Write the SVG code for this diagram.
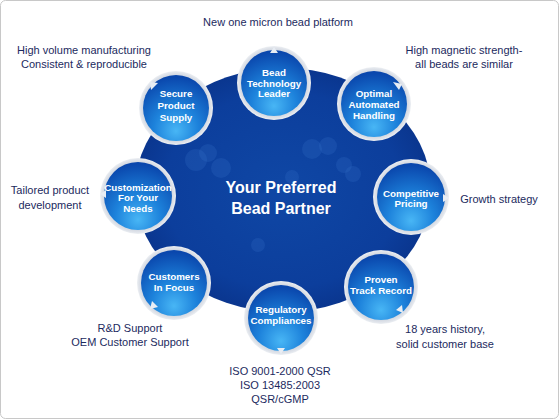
<svg xmlns="http://www.w3.org/2000/svg" width="560" height="420" viewBox="0 0 560 420">
<defs>
<radialGradient id="big" cx="50%" cy="50%" r="50%">
<stop offset="0" stop-color="#0f47a5"/>
<stop offset="0.8" stop-color="#0c3e9c"/>
<stop offset="1" stop-color="#0a368f"/>
</radialGradient>
<radialGradient id="ball" cx="50%" cy="78%" r="75%" fx="50%" fy="85%">
<stop offset="0" stop-color="#48b6f5"/>
<stop offset="0.45" stop-color="#1d82db"/>
<stop offset="1" stop-color="#0a47ad"/>
</radialGradient>
<radialGradient id="rim" cx="50%" cy="50%" r="50%">
<stop offset="0.86" stop-color="#cdd3dd"/>
<stop offset="0.95" stop-color="#dfe3ea"/>
<stop offset="1" stop-color="#eceff3"/>
</radialGradient>
<style>
.rim{fill:url(#rim)}
.ball{fill:url(#ball)}
.lbl{font-family:"Liberation Sans",Arial,sans-serif;font-weight:bold;font-size:9.8px;fill:#ffffff;text-anchor:middle}
.out{font-family:"Liberation Sans",Arial,sans-serif;font-size:11px;fill:#1c2a5e;text-anchor:middle}
.tri{fill:#e8edf4}
.bub{fill:#3a78cc;opacity:0.22}
</style>
</defs>
<rect x="0.5" y="0.5" width="558" height="418" rx="5" fill="#ffffff" stroke="#c8c8c8"/>
<g id="hub">
<ellipse cx="283" cy="190" rx="148" ry="122" fill="url(#big)"/>
<circle class="bub" cx="196" cy="160" r="11"/>
<circle class="bub" cx="208" cy="153" r="9"/>
<circle class="bub" cx="221" cy="168" r="10"/>
<circle class="bub" cx="312" cy="149" r="10"/>
<circle class="bub" cx="328" cy="146" r="9"/>
<circle class="bub" cx="344" cy="165" r="8"/>
<circle class="bub" cx="353" cy="174" r="8"/>
<circle class="bub" cx="292" cy="177" r="7"/>
<circle class="bub" cx="258" cy="245" r="7"/>
<text x="281" y="193" font-family="Liberation Sans,Arial,sans-serif" font-weight="bold" font-size="16" fill="#ffffff" text-anchor="middle">Your Preferred</text>
<text x="281" y="214" font-family="Liberation Sans,Arial,sans-serif" font-weight="bold" font-size="16" fill="#ffffff" text-anchor="middle">Bead Partner</text>
</g>
<g id="connectors"></g>
<g id="n-bead">
<circle class="rim" cx="274" cy="83" r="37"/>
<circle class="ball" cx="274" cy="83" r="33"/>
<polygon class="tri" points="274,47 270,53 278,53"/>
<text class="lbl" x="274" y="75.5">Bead</text>
<text class="lbl" x="274" y="86.5">Technology</text>
<text class="lbl" x="274" y="97">Leader</text>
</g>
<g id="n-secure">
<circle class="rim" cx="176" cy="108" r="37"/>
<circle class="ball" cx="176" cy="108" r="33"/>
<polygon class="tri" points="150,82 151,90 158,83"/>
<text class="lbl" x="176" y="96.5">Secure</text>
<text class="lbl" x="176" y="108.5">Product</text>
<text class="lbl" x="176" y="120.5">Supply</text>
</g>
<g id="n-optimal">
<circle class="rim" cx="374" cy="104" r="37"/>
<circle class="ball" cx="374" cy="104" r="33"/>
<polygon class="tri" points="402,84 393,82 399,90"/>
<text class="lbl" x="374" y="96.5">Optimal</text>
<text class="lbl" x="374" y="107.5">Automated</text>
<text class="lbl" x="374" y="118.5">Handling</text>
</g>
<g id="n-custom">
<circle class="rim" cx="138" cy="196" r="38"/>
<circle class="ball" cx="138" cy="196" r="34"/>
<polygon class="tri" points="100,194 106,190 106,198"/>
<text class="lbl" x="138" y="190.5">Customization</text>
<text class="lbl" x="138" y="200.5">For Your</text>
<text class="lbl" x="138" y="211.5">Needs</text>
</g>
<g id="n-pricing">
<circle class="rim" cx="411" cy="197" r="38"/>
<circle class="ball" cx="411" cy="197" r="34"/>
<polygon class="tri" points="449,198 443,194 443,202"/>
<text class="lbl" x="411" y="196.5">Competitive</text>
<text class="lbl" x="411" y="206.5">Pricing</text>
</g>
<g id="n-customers">
<circle class="rim" cx="174" cy="283" r="37"/>
<circle class="ball" cx="174" cy="283" r="33"/>
<polygon class="tri" points="150,309 152,301 158,307"/>
<text class="lbl" x="174" y="279.5">Customers</text>
<text class="lbl" x="174" y="290.5">In Focus</text>
</g>
<g id="n-proven">
<circle class="rim" cx="381" cy="287" r="37"/>
<circle class="ball" cx="381" cy="287" r="33"/>
<polygon class="tri" points="403,313 396,310 402,305"/>
<text class="lbl" x="381" y="282.5">Proven</text>
<text class="lbl" x="381" y="293.5">Track Record</text>
</g>
<g id="n-regulatory">
<circle class="rim" cx="281" cy="318" r="37"/>
<circle class="ball" cx="281" cy="318" r="33"/>
<polygon class="tri" points="281,354 277,348 285,348"/>
<text class="lbl" x="281" y="312.5">Regulatory</text>
<text class="lbl" x="281" y="323.5">Compliances</text>
</g>
<g id="notes">
<text class="out" x="278" y="26">New one micron bead platform</text>
<text class="out" x="84" y="54">High volume manufacturing</text>
<text class="out" x="84" y="68">Consistent &amp; reproducible</text>
<text class="out" x="464" y="54">High magnetic strength-</text>
<text class="out" x="464" y="68">all beads are similar</text>
<text class="out" x="50" y="194">Tailored product</text>
<text class="out" x="50" y="209">development</text>
<text class="out" x="499" y="203">Growth strategy</text>
<text class="out" x="130" y="332">R&amp;D Support</text>
<text class="out" x="130" y="346">OEM Customer Support</text>
<text class="out" x="445" y="333">18 years history,</text>
<text class="out" x="445" y="348">solid customer base</text>
<text class="out" x="280" y="375">ISO 9001-2000 QSR</text>
<text class="out" x="280" y="389">ISO 13485:2003</text>
<text class="out" x="280" y="403">QSR/cGMP</text>
</g>
</svg>
